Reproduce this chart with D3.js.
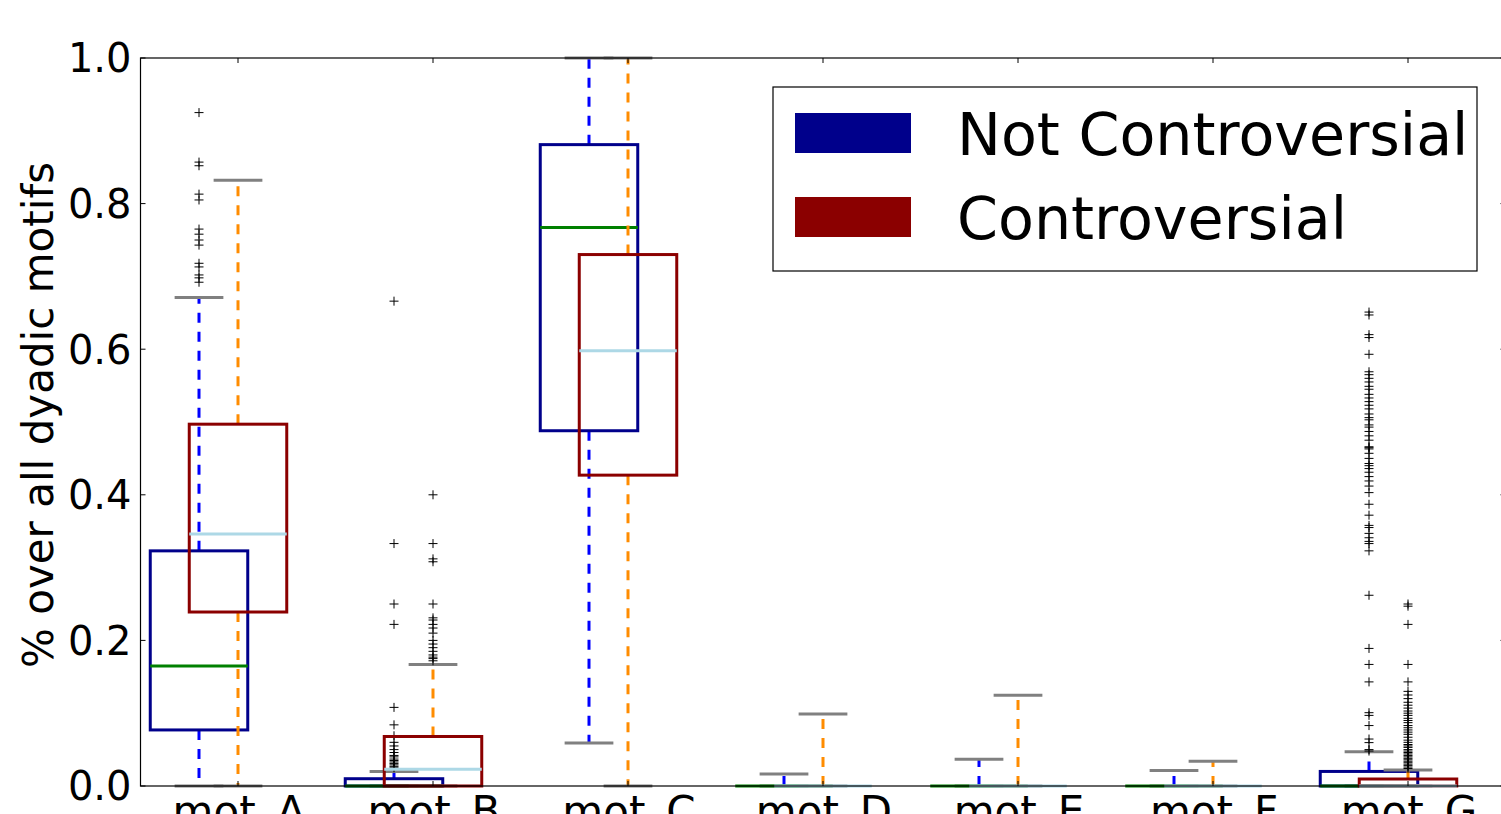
<!DOCTYPE html>
<html>
<head>
<meta charset="utf-8">
<script src="https://cdn.jsdelivr.net/npm/d3@7"></script>
<style>
  body { margin: 0; background: #fff; }
  svg { display: block; font-family: "DejaVu Sans", sans-serif; }
</style>
</head>
<body>
<div id="chart"></div>
<script>
// categories and legend
const motifs = ["mot_A", "mot_B", "mot_C", "mot_D", "mot_E", "mot_F", "mot_G"];
const groups = ["Not Controversial", "Controversial"];
const yTicks = [0, 0.2, 0.4, 0.6, 0.8, 1.0];

// box stats, Not Controversial
const ncLow = [0, 0, 0.059, 0, 0, 0, 0];
const ncQ1 = [0.077, 0, 0.488, 0, 0, 0, 0];
const ncMed = [0.165, 0, 0.767, 0, 0, 0, 0];
const ncQ3 = [0.323, 0.01, 0.881, 0, 0, 0, 0.02];
const ncHigh = [0.671, 0.02, 1.0, 0.0165, 0.0366, 0.0213, 0.047];

// box stats, Controversial
const cLow = [0, 0, 0, 0, 0, 0, 0];
const cQ1 = [0.239, 0, 0.427, 0, 0, 0, 0];
const cMed = [0.346, 0.023, 0.598, 0, 0, 0, 0];
const cQ3 = [0.497, 0.068, 0.730, 0, 0, 0, 0.0096];
const cHigh = [0.832, 0.167, 1.0, 0.099, 0.1245, 0.034, 0.022];

// outliers
const ncFliers = [
  [0.925, 0.857, 0.852, 0.813, 0.805, 0.765, 0.758, 0.75, 0.743, 0.718, 0.713, 0.702, 0.698, 0.692],
  [0.666, 0.333, 0.25, 0.222, 0.108, 0.084, 0.069, 0.06, 0.055, 0.05, 0.046, 0.042, 0.04, 0.037,
   0.035, 0.033, 0.031, 0.029, 0.027, 0.025],
  [], [], [], [],
  [0.651, 0.647, 0.62, 0.616, 0.593, 0.569, 0.565, 0.56, 0.555, 0.549, 0.545, 0.538, 0.533, 0.528,
   0.523, 0.518, 0.511, 0.506, 0.503, 0.496, 0.493, 0.487, 0.481, 0.475, 0.466, 0.4647, 0.463,
   0.457, 0.45, 0.443, 0.44, 0.436, 0.431, 0.425, 0.419, 0.412, 0.403, 0.387, 0.372, 0.358, 0.355,
   0.347, 0.341, 0.336, 0.333, 0.323, 0.262, 0.189, 0.167, 0.143, 0.1007, 0.097, 0.083, 0.0645,
   0.0596, 0.05, 0.048]
];
const cFliers = [
  [],
  [0.40, 0.333, 0.312, 0.308, 0.25, 0.231, 0.228, 0.222, 0.217, 0.21, 0.2, 0.195, 0.19, 0.185,
   0.18, 0.177, 0.175, 0.172],
  [], [], [], [],
  [0.25, 0.247, 0.222, 0.167, 0.143, 0.13, 0.125, 0.12, 0.115, 0.111, 0.107, 0.103, 0.1, 0.097,
   0.093, 0.09, 0.087, 0.083, 0.08, 0.077, 0.074, 0.071, 0.067, 0.063, 0.06, 0.057, 0.055, 0.053,
   0.05, 0.048, 0.046, 0.044, 0.042, 0.04, 0.038, 0.036, 0.034, 0.032, 0.03, 0.028, 0.026, 0.024]
];

const W = 1501, H = 814;
const svg = d3.select("#chart").append("svg").attr("width", W).attr("height", H);

// x in "position" units like matplotlib: C box at i+1, NC box at i+0.8
const x = d3.scaleLinear().domain([0.5, 7.5]).range([140.5, 1505.5]);
const y = d3.scaleLinear().domain([0, 1]).range([786, 58]);
const boxW = 0.5, capW = 0.25;

const series = [
  { low: ncLow, q1: ncQ1, med: ncMed, q3: ncQ3, high: ncHigh, fliers: ncFliers, off: -0.2,
    box: "#00008b", median: "#008000", whisker: "#0000ff" },
  { low: cLow, q1: cQ1, med: cMed, q3: cQ3, high: cHigh, fliers: cFliers, off: 0,
    box: "#8b0000", median: "#add8e6", whisker: "#ff8c00" }
];

series.forEach(s => {
  const g = svg.append("g");
  const rows = motifs.map((m, i) => ({ p: i + 1 + s.off, low: s.low[i], q1: s.q1[i], med: s.med[i],
    q3: s.q3[i], high: s.high[i], fliers: s.fliers[i] }));

  // whiskers, dashed
  g.selectAll(".wlo").data(rows).enter().append("line")
    .attr("x1", d => x(d.p)).attr("x2", d => x(d.p))
    .attr("y1", d => y(d.q1)).attr("y2", d => y(d.low))
    .attr("stroke", s.whisker).attr("stroke-width", 3).attr("stroke-dasharray", "10,9");
  g.selectAll(".whi").data(rows).enter().append("line")
    .attr("x1", d => x(d.p)).attr("x2", d => x(d.p))
    .attr("y1", d => y(d.q3)).attr("y2", d => y(d.high))
    .attr("stroke", s.whisker).attr("stroke-width", 3).attr("stroke-dasharray", "10,9");

  // caps
  ["low", "high"].forEach(k => {
    g.selectAll(".cap-" + k).data(rows).enter().append("line")
      .attr("x1", d => x(d.p - capW / 2)).attr("x2", d => x(d.p + capW / 2))
      .attr("y1", d => y(d[k])).attr("y2", d => y(d[k]))
      .attr("stroke", "#808080").attr("stroke-width", 3);
  });

  // boxes
  g.selectAll("rect").data(rows).enter().append("rect")
    .attr("x", d => x(d.p - boxW / 2)).attr("width", d => x(d.p + boxW / 2) - x(d.p - boxW / 2))
    .attr("y", d => y(d.q3)).attr("height", d => y(d.q1) - y(d.q3))
    .attr("fill", "none").attr("stroke", s.box).attr("stroke-width", 3);

  // medians
  g.selectAll(".med").data(rows).enter().append("line")
    .attr("x1", d => x(d.p - boxW / 2)).attr("x2", d => x(d.p + boxW / 2))
    .attr("y1", d => y(d.med)).attr("y2", d => y(d.med))
    .attr("stroke", s.median).attr("stroke-width", 3);

  // fliers as "+"
  const pts = rows.flatMap(d => d.fliers.map(v => ({ p: d.p, v })));
  g.selectAll(".flier").data(pts).enter().append("path")
    .attr("d", d => `M${x(d.p) - 4.5},${y(d.v)}h9M${x(d.p)},${y(d.v) - 4.5}v9`)
    .attr("stroke", "#000").attr("stroke-width", 1).attr("fill", "none");
});

// frame
svg.append("rect").attr("x", x(0.5)).attr("y", y(1)).attr("width", x(7.5) - x(0.5))
  .attr("height", y(0) - y(1)).attr("fill", "none").attr("stroke", "#000").attr("stroke-width", 1.2);

// y ticks (inward, both sides) and labels
const yAxis = svg.append("g");
yTicks.forEach(t => {
  yAxis.append("line").attr("x1", x(0.5)).attr("x2", x(0.5) + 5).attr("y1", y(t)).attr("y2", y(t))
    .attr("stroke", "#000");
  yAxis.append("line").attr("x1", x(7.5)).attr("x2", x(7.5) - 5).attr("y1", y(t)).attr("y2", y(t))
    .attr("stroke", "#000");
  yAxis.append("text").attr("x", x(0.5) - 9).attr("y", y(t)).attr("dy", "0.36em")
    .attr("text-anchor", "end").attr("font-size", 40).text(d3.format(".1f")(t));
});

// x ticks and labels
const xAxis = svg.append("g");
motifs.forEach((m, i) => {
  xAxis.append("line").attr("x1", x(i + 1)).attr("x2", x(i + 1)).attr("y1", y(0)).attr("y2", y(0) - 5)
    .attr("stroke", "#000");
  xAxis.append("line").attr("x1", x(i + 1)).attr("x2", x(i + 1)).attr("y1", y(1)).attr("y2", y(1) + 5)
    .attr("stroke", "#000");
  xAxis.append("text").attr("x", x(i + 1) + 1).attr("y", 826).attr("text-anchor", "middle")
    .attr("font-size", 42).text(m);
});

// y label
svg.append("text").attr("transform", "translate(53,415) rotate(-90)")
  .attr("text-anchor", "middle").attr("font-size", 42).text("% over all dyadic motifs");

// legend
const leg = svg.append("g");
leg.append("rect").attr("x", 773).attr("y", 87).attr("width", 704).attr("height", 184)
  .attr("fill", "#fff").attr("stroke", "#000").attr("stroke-width", 1.2);
groups.forEach((gname, i) => {
  leg.append("rect").attr("x", 795).attr("y", 113 + i * 84).attr("width", 116).attr("height", 40)
    .attr("fill", series[i].box);
  leg.append("text").attr("x", 957).attr("y", 155 + i * 84).attr("font-size", 58.7).text(gname);
});
</script>
</body>
</html>
